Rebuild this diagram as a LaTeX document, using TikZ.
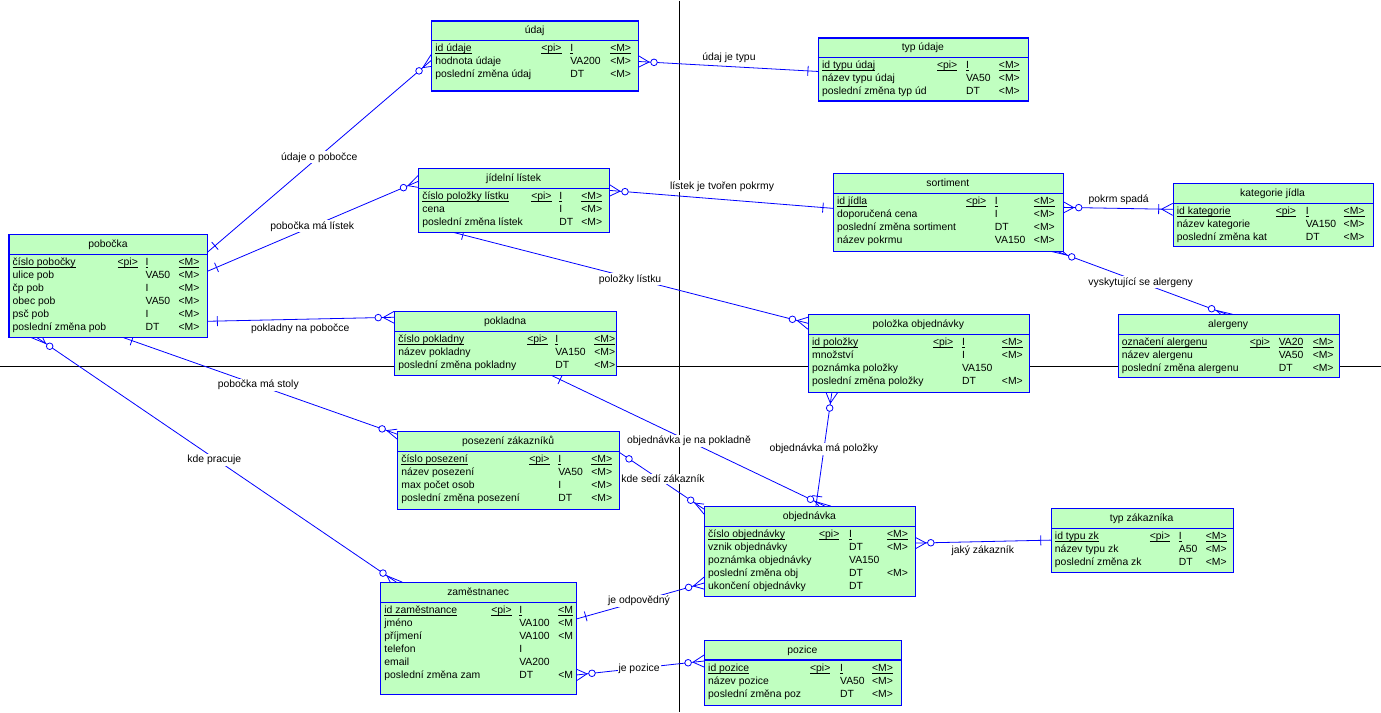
\documentclass[tikz,border=0pt]{standalone}
\usepackage{fontspec}
\setmainfont{Liberation Sans}
\usetikzlibrary{calc}
\definecolor{entfill}{RGB}{192,255,192}
\definecolor{entblue}{RGB}{0,0,255}
\newcommand\erfont{\fontsize{10.4}{12}\selectfont}
\newcommand\keyul[1]{\underline{\smash{#1}}}
\tikzset{
  ent/.style={draw=entblue, line width=1.1pt, fill=entfill, rectangle, anchor=north west, inner sep=0pt},
  entsep/.style={draw=entblue, line width=1.1pt},
  ehead/.style={anchor=base, inner sep=0pt, font=\erfont},
  fld/.style={anchor=base west, inner sep=0pt, font=\erfont},
  rel/.style={draw=entblue, line width=0.8pt},
  lbl/.style={fill=white, inner sep=1pt, font=\erfont},
  axis/.style={black, line width=1pt}
}
\newcommand\entity[8]{%
  \node[ent, minimum width=#4, minimum height=#5] (#1) at (#2,#3) {};
  \draw[entsep] (#2,#3+20) -- ++(#4,0);
  \node[ehead] (#1-t) at (#2+#4/2,#3+13.5) {#6};
  \foreach \fa/\fb/\fc/\fd [count=\i from 0] in {#8}
    \foreach \xp/\xt/\xm in {#7}
      \path (#2+4,#3+31.5+12.9*\i) node[fld] (#1-\i) {\fa}
            (\xp,#3+31.5+12.9*\i) node[fld] (#1-\i p) {\fb}
            (\xt,#3+31.5+12.9*\i) node[fld] (#1-\i t) {\fc}
            (\xm,#3+31.5+12.9*\i) node[fld] (#1-\i m) {\fd};
}
\newcommand\erbar[3][10pt]{%
  \coordinate (#2-bar) at ($(#2)!#1!(#3)$);
  \draw[rel] ($(#2-bar)!5pt!90:(#3)$) -- ($(#2-bar)!5pt!-90:(#3)$);}
\newcommand\ercrow[3]{%
  \draw[rel] ($(#1)+(#3)$) -- ($(#1)!11pt!(#2)$) -- ($(#1)-(#3)$);}
\newcommand\ercirc[3][16pt]{%
  \draw[rel, fill=white] ($(#2)!#1!(#3)$) circle (3.3pt);}

\begin{document}
\begin{tikzpicture}[x=1pt,y=-1pt]
\fill[white] (0,0) rectangle (1381,712);
\draw[axis] (679,0) -- (679,712);
\draw[axis] (0,366) -- (1381,366);

\foreach \n/\x/\y in {pob-ud/207/252, ud-pob/431/60, pob-jl/207/271, jl-pob/418/181,
  pob-pk/207/321, pk-pob/394/317, jl-po/453/232, po-jl/808/323, jl-so/609/190, so-jl/833/208,
  ud-tu/638/61, tu-ud/818/71, so-kj/1063/207, kj-so/1173/209, so-al/1057/251, al-so/1227/314,
  pob-ps/122/337, ps-pob/397/434, pob-za/36/337, za-pob/396/582, pk-ob/551/375, ob-pk/825/506,
  ps-ob/619/452, ob-ps/704/509, po-ob/832/392, ob-po/816/506, ob-tz/915/543, tz-ob/1051/540,
  za-ob/576/619, ob-za/704/583, za-pz/576/675, pz-za/704/661}
  \coordinate (\n) at (\x,\y);
\foreach \a/\b in {pob-ud/ud-pob, pob-jl/jl-pob, pob-pk/pk-pob, jl-po/po-jl, jl-so/so-jl,
  ud-tu/tu-ud, so-kj/kj-so, so-al/al-so, pob-ps/ps-pob, pob-za/za-pob, pk-ob/ob-pk,
  ps-ob/ob-ps, po-ob/ob-po, ob-tz/tz-ob, za-ob/ob-za, za-pz/pz-za}
  \draw[rel] (\a) -- (\b);

\erbar{pob-ud}{ud-pob} \ercrow{ud-pob}{pob-ud}{0,6} \ercirc{ud-pob}{pob-ud}
\erbar{pob-jl}{jl-pob} \ercrow{jl-pob}{pob-jl}{0,6} \ercirc{jl-pob}{pob-jl}
\erbar{pob-pk}{pk-pob} \ercrow{pk-pob}{pob-pk}{0,6} \ercirc{pk-pob}{pob-pk}
\erbar{jl-po}{po-jl} \ercrow{po-jl}{jl-po}{0,6} \ercirc{po-jl}{jl-po}
\ercrow{jl-so}{so-jl}{0,6} \ercirc{jl-so}{so-jl} \erbar{so-jl}{jl-so}
\ercrow{ud-tu}{tu-ud}{0,6} \ercirc{ud-tu}{tu-ud} \erbar{tu-ud}{ud-tu}
\ercrow{so-kj}{kj-so}{0,6} \ercirc{so-kj}{kj-so} \erbar[14pt]{kj-so}{so-kj} \ercrow{kj-so}{so-kj}{0,6}
\ercrow{so-al}{al-so}{6,0} \ercirc{so-al}{al-so} \ercrow{al-so}{so-al}{6,0} \ercirc{al-so}{so-al}
\erbar{pob-ps}{ps-pob} \ercrow{ps-pob}{pob-ps}{0,5} \ercirc{ps-pob}{pob-ps}
\ercrow{pob-za}{za-pob}{6,0} \ercirc{pob-za}{za-pob} \ercrow{za-pob}{pob-za}{6,0} \ercirc{za-pob}{pob-za}
\erbar{pk-ob}{ob-pk} \ercrow{ob-pk}{pk-ob}{6,0} \ercirc{ob-pk}{pk-ob}
\ercirc[12pt]{ps-ob}{ob-ps} \ercrow{ob-ps}{ps-ob}{0,5} \ercirc{ob-ps}{ps-ob}
\ercrow{po-ob}{ob-po}{6,0} \ercirc{po-ob}{ob-po} \erbar{ob-po}{po-ob}
\ercrow{ob-tz}{tz-ob}{0,6} \ercirc{ob-tz}{tz-ob} \erbar{tz-ob}{ob-tz}
\erbar{za-ob}{ob-za} \ercrow{ob-za}{za-ob}{0,6} \ercirc{ob-za}{za-ob}
\ercrow{za-pz}{pz-za}{0,6} \ercirc{za-pz}{pz-za} \ercrow{pz-za}{za-pz}{0,6} \ercirc{pz-za}{za-pz}

\entity{udaj}{431}{20}{207}{70}{údaj}{541/570/610}{\keyul{id údaje}/\keyul{<pi>}/\keyul{I}/\keyul{<M>},
  hodnota údaje/{}/VA200/<M>, poslední změna údaj/{}/DT/<M>}
\entity{typud}{818}{37}{210}{63}{typ údaje}{937/966/999}{\keyul{id typu údaj}/\keyul{<pi>}/\keyul{I}/\keyul{<M>},
  název typu údaj/{}/VA50/<M>, poslední změna typ úd/{}/DT/<M>}
\entity{listek}{418}{168}{191}{64}{jídelní lístek}{531/559/581}{\keyul{číslo položky lístku}/\keyul{<pi>}/\keyul{I}/\keyul{<M>},
  cena/{}/I/<M>, poslední změna lístek/{}/DT/<M>}
\entity{sort}{833}{173}{230}{78}{sortiment}{966/995/1034}{\keyul{id jídla}/\keyul{<pi>}/\keyul{I}/\keyul{<M>},
  doporučená cena/{}/I/<M>, poslední změna sortiment/{}/DT/<M>, název pokrmu/{}/VA150/<M>}
\entity{kat}{1173}{183}{200}{63}{kategorie jídla}{1276/1306/1344}{\keyul{id kategorie}/\keyul{<pi>}/\keyul{I}/\keyul{<M>},
  název kategorie/{}/VA150/<M>, poslední změna kat/{}/DT/<M>}
\entity{pob}{8}{234}{199}{103}{pobočka}{117/145/178}{\keyul{číslo pobočky}/\keyul{<pi>}/\keyul{I}/\keyul{<M>},
  ulice pob/{}/VA50/<M>, čp pob/{}/I/<M>, obec pob/{}/VA50/<M>, psč pob/{}/I/<M>, poslední změna pob/{}/DT/<M>}
\entity{pokl}{394}{311}{222}{64}{pokladna}{527/555/594}{\keyul{číslo pokladny}/\keyul{<pi>}/\keyul{I}/\keyul{<M>},
  název pokladny/{}/VA150/<M>, poslední změna pokladny/{}/DT/<M>}
\entity{polozka}{808}{314}{221}{78}{položka objednávky}{933/962/1002}{\keyul{id položky}/\keyul{<pi>}/\keyul{I}/\keyul{<M>},
  množství/{}/I/<M>, poznámka položky/{}/VA150/{}, poslední změna položky/{}/DT/<M>}
\entity{aler}{1118}{314}{221}{63}{alergeny}{1250/1279/1313}{\keyul{označení alergenu}/\keyul{<pi>}/\keyul{VA20}/\keyul{<M>},
  název alergenu/{}/VA50/<M>, poslední změna alergenu/{}/DT/<M>}
\entity{pos}{397}{431}{222}{78}{posezení zákazníků}{529/558/591}{\keyul{číslo posezení}/\keyul{<pi>}/\keyul{I}/\keyul{<M>},
  název posezení/{}/VA50/<M>, max počet osob/{}/I/<M>, poslední změna posezení/{}/DT/<M>}
\entity{obj}{704}{506}{211}{90}{objednávka}{819/849/887}{\keyul{číslo objednávky}/\keyul{<pi>}/\keyul{I}/\keyul{<M>},
  vznik objednávky/{}/DT/<M>, poznámka objednávky/{}/VA150/{}, poslední změna obj/{}/DT/<M>, ukončení objednávky/{}/DT/{}}
\entity{typzk}{1051}{508}{182}{64}{typ zákazníka}{1150/1179/1206}{\keyul{id typu zk}/\keyul{<pi>}/\keyul{I}/\keyul{<M>},
  název typu zk/{}/A50/<M>, poslední změna zk/{}/DT/<M>}
\entity{zam}{380}{582}{196}{112}{zaměstnanec}{491/519/558}{\keyul{id zaměstnance}/\keyul{<pi>}/\keyul{I}/\keyul{<M},
  jméno/{}/VA100/<M, příjmení/{}/VA100/<M, telefon/{}/I/{}, email/{}/VA200/{}, poslední změna zam/{}/DT/<M}
\entity{poz}{704}{640}{197}{65}{pozice}{810/840/872}{\keyul{id pozice}/\keyul{<pi>}/\keyul{I}/\keyul{<M>},
  název pozice/{}/VA50/<M>, poslední změna poz/{}/DT/<M>}

\foreach \x/\y/\txt [count=\k] in {319/157/údaje o pobočce, 312/226/pobočka má lístek,
  300/329/pokladny na pobočce, 630/279/položky lístku, 722/186/lístek je tvořen pokrmy,
  729/57/údaj je typu, 1119/199/pokrm spadá, 1141/282/vyskytující se alergeny,
  258/385/pobočka má stoly, 214/460/kde pracuje, 689/441/objednávka je na pokladně,
  663/479/kde sedí zákazník, 824/449/objednávka má položky, 983/551/jaký zákazník,
  639/601/je odpovědný, 639/669/je pozice}
  \node[lbl] (rel\k) at (\x,\y) {\txt};
\end{tikzpicture}
\end{document}
